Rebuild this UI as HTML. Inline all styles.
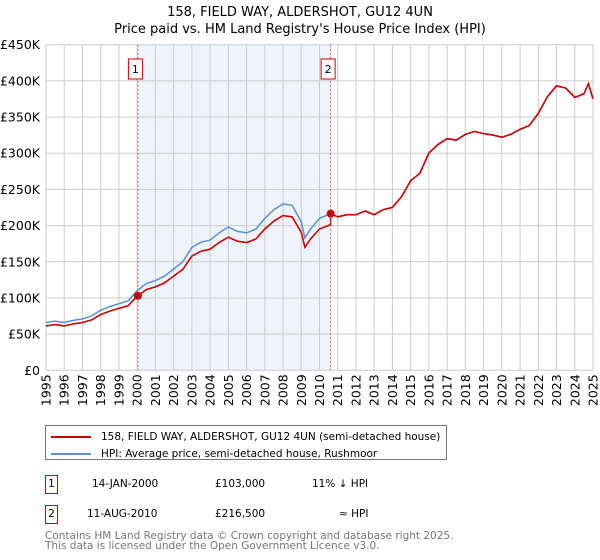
<!DOCTYPE html>
<html><head><meta charset="utf-8"><style>
body{margin:0;background:#fff;font-family:"Liberation Sans","DejaVu Sans",sans-serif;}
#wrap{position:relative;width:600px;height:560px;overflow:hidden}
text{font-family:"DejaVu Sans","Liberation Sans",sans-serif}
</style></head><body><div id="wrap">
<svg id="chart" width="600" height="560"></svg>
</div>
<script>
const hpiYears=[1995,1995.5,1996,1996.5,1997,1997.5,1998,1998.5,1999,1999.5,2000,2000.5,2001,2001.5,2002,2002.5,2003,2003.5,2004,2004.5,2005,2005.5,2006,2006.5,2007,2007.5,2008,2008.5,2009,2009.2,2009.5,2010,2010.6,2011,2011.5,2012,2012.5,2013,2013.5,2014,2014.5,2015,2015.5,2016,2016.5,2017,2017.5,2018,2018.5,2019,2019.5,2020,2020.5,2021,2021.5,2022,2022.5,2023,2023.5,2024,2024.5,2024.75,2025];
const hpiValues=[66,68,66,69,71,75,83,88,92,96,110,120,124,130,140,150,170,177,180,190,198,192,190,195,210,222,230,228,205,183,195,210,216.5,212,215,215,220,215,222,225,240,262,272,300,312,320,318,326,330,327,325,322,326,333,338,355,378,393,390,377,382,396,375];
const saleDates=[2000.04,2010.61];
const salePrices=[103,216.5];
const yTicks=[0,50,100,150,200,250,300,350,400,450];
const yTickLabels=["£0","£50K","£100K","£150K","£200K","£250K","£300K","£350K","£400K","£450K"];
const xTicks=[1995,1996,1997,1998,1999,2000,2001,2002,2003,2004,2005,2006,2007,2008,2009,2010,2011,2012,2013,2014,2015,2016,2017,2018,2019,2020,2021,2022,2023,2024,2025];

const NS="http://www.w3.org/2000/svg";
const svg=document.getElementById('chart');
const X0=46,X1=593,Y0=370.3,Y1=44.7;
function xs(y){return X0+(y-1995)/30*(X1-X0);}
function ys(v){return Y0-v/450*(Y0-Y1);}
function mk(tag,attrs,parent){const e=document.createElementNS(NS,tag);for(const k in attrs)e.setAttribute(k,attrs[k]);(parent||svg).appendChild(e);return e;}
function hpiAt(t){for(let i=0;i<hpiYears.length-1;i++){if(t>=hpiYears[i]&&t<=hpiYears[i+1]){const f=(t-hpiYears[i])/(hpiYears[i+1]-hpiYears[i]);return hpiValues[i]+f*(hpiValues[i+1]-hpiValues[i]);}}return hpiValues[hpiValues.length-1];}

let t=mk('text',{x:300,y:16,'text-anchor':'middle','font-size':13,fill:'#000'});t.textContent="158, FIELD WAY, ALDERSHOT, GU12 4UN";

t=mk('text',{x:300,y:33,'text-anchor':'middle','font-size':13,fill:'#000'});t.textContent="Price paid vs. HM Land Registry's House Price Index (HPI)";


let sh=mk('rect',{x:xs(saleDates[0]),y:Y1,width:xs(saleDates[1])-xs(saleDates[0]),height:Y0-Y1,fill:'#eef3fc'});


const grid=mk('g',{stroke:'#cccccc','stroke-width':1});

xTicks.forEach(y=>{mk('line',{x1:xs(y),x2:xs(y),y1:Y1,y2:Y0},grid);});
yTicks.forEach(v=>{mk('line',{x1:X0,x2:X1,y1:ys(v),y2:ys(v)},grid);});

yTicks.forEach((v,i)=>{const e=mk('text',{x:X0-6,y:ys(v)+4.5,'text-anchor':'end','font-size':12.5,fill:'#000'});e.textContent=yTickLabels[i];
});
xTicks.forEach(y=>{const e=mk('text',{x:0,y:0,'text-anchor':'end','font-size':12.5,fill:'#000',transform:`translate(${xs(y)+4.5},${Y0+4}) rotate(-90)`});e.textContent=y;
});

let d=hpiYears.map((y,i)=>(i?'L':'M')+xs(y).toFixed(1)+','+ys(hpiValues[i]).toFixed(1)).join('');
let hl=mk('path',{d:d,fill:'none',stroke:'#5b8fd6','stroke-width':1.5});


const r1=salePrices[0]/hpiAt(saleDates[0]),r2=salePrices[1]/hpiAt(saleDates[1]);
let pts=[];
hpiYears.forEach((y,i)=>{if(y<saleDates[1])pts.push([y,hpiValues[i]*r1]);});
pts.push([saleDates[1],hpiAt(saleDates[1])*r1]);
pts.push([saleDates[1],salePrices[1]]);
hpiYears.forEach((y,i)=>{if(y>saleDates[1])pts.push([y,hpiValues[i]*r2]);});
d=pts.map((p,i)=>(i?'L':'M')+xs(p[0]).toFixed(1)+','+ys(p[1]).toFixed(1)).join('');
let pl=mk('path',{d:d,fill:'none',stroke:'#cc0000','stroke-width':1.6});


saleDates.forEach((s,i)=>{
 let l=mk('line',{x1:xs(s),x2:xs(s),y1:Y1,y2:Y0,stroke:'#e05555','stroke-width':1,'stroke-dasharray':'2,2'});
 
 let c=mk('circle',{cx:xs(s),cy:ys(salePrices[i]),r:4,fill:'#cc0000'});
 
 let g=mk('g',{});
 mk('rect',{x:xs(s)-9.5,y:59,width:14,height:20,fill:'#fff',stroke:'#cc0000'},g);
 let tt=mk('text',{x:xs(s)-2.5,y:73,'text-anchor':'middle','font-size':11,fill:'#000'},g);tt.textContent=i+1;
});
</script>
<div style="position:absolute;left:45px;top:425px;width:402px;height:35px;border:1px solid #777;box-sizing:border-box;font-family:'DejaVu Sans','Liberation Sans',sans-serif;font-size:10.5px">
 <div style="position:absolute;left:5px;top:5px;white-space:nowrap"><span style="display:inline-block;width:40px;height:2px;background:#cc0000;vertical-align:middle;margin-right:10px"></span>158, FIELD WAY, ALDERSHOT, GU12 4UN (semi-detached house)</div>
 <div style="position:absolute;left:5px;top:22px;white-space:nowrap"><span style="display:inline-block;width:40px;height:2px;background:#5b8fd6;vertical-align:middle;margin-right:10px"></span>HPI: Average price, semi-detached house, Rushmoor</div>
</div>
<div style="position:absolute;left:0;top:0;font-family:'DejaVu Sans','Liberation Sans',sans-serif;font-size:10.5px">
 <div>
  <div style="position:absolute;left:45px;top:475px;width:13px;height:19px;border:1px solid #cc0000;box-sizing:border-box;text-align:center;line-height:17px">1</div>
  <div style="position:absolute;left:92px;top:478px;white-space:nowrap">14-JAN-2000</div>
  <div style="position:absolute;left:215px;top:478px;white-space:nowrap">£103,000</div>
  <div style="position:absolute;left:312px;top:478px;white-space:nowrap">11% ↓ HPI</div>
 </div>
 <div>
  <div style="position:absolute;left:45px;top:505px;width:13px;height:19px;border:1px solid #cc0000;box-sizing:border-box;text-align:center;line-height:17px">2</div>
  <div style="position:absolute;left:87px;top:508px;white-space:nowrap">11-AUG-2010</div>
  <div style="position:absolute;left:215px;top:508px;white-space:nowrap">£216,500</div>
  <div style="position:absolute;left:339px;top:508px;white-space:nowrap">≈ HPI</div>
 </div>
 <div style="position:absolute;left:45px;top:531px;white-space:nowrap;color:#777;line-height:10px">Contains HM Land Registry data © Crown copyright and database right 2025.<br>This data is licensed under the Open Government Licence v3.0.</div>
</div>
</body></html>
